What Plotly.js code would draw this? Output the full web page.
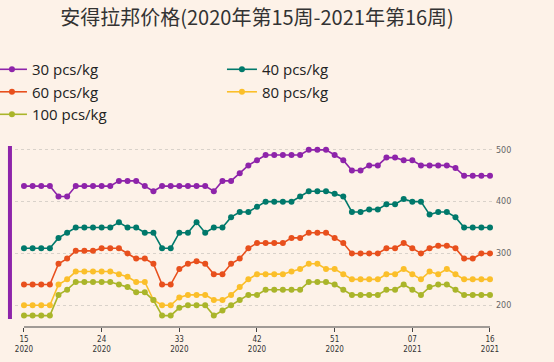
<!DOCTYPE html>
<html>
<head>
<meta charset="utf-8">
<script src="https://cdn.plot.ly/plotly-3.0.1.min.js"></script>
<style>html,body{margin:0;padding:0;background:#fdf2e8;}#chart{width:554px;height:362px;}</style>
</head>
<body>
<div id="chart"></div>
<script>
const weeks = ["2020-15","2020-16","2020-17","2020-18","2020-19","2020-20","2020-21","2020-22","2020-23","2020-24",
  "2020-25","2020-26","2020-27","2020-28","2020-29","2020-30","2020-31","2020-32","2020-33","2020-34",
  "2020-35","2020-36","2020-37","2020-38","2020-39","2020-40","2020-41","2020-42","2020-43","2020-44",
  "2020-45","2020-46","2020-47","2020-48","2020-49","2020-50","2020-51","2020-52","2020-53",
  "2021-01","2021-02","2021-03","2021-04","2021-05","2021-06","2021-07","2021-08","2021-09","2021-10",
  "2021-11","2021-12","2021-13","2021-14","2021-15","2021-16"];
const tickWeeks = ["2020-15","2020-24","2020-33","2020-42","2020-51","2021-07","2021-16"];
const tickLabels = ["15<br>2020","24<br>2020","33<br>2020","42<br>2020","51<br>2020","07<br>2021","16<br>2021"];
const seriesNames = ["30 pcs/kg","40 pcs/kg","60 pcs/kg","80 pcs/kg","100 pcs/kg"];
const p30 = [430,430,430,430,410,410,430,430,430,430,430,440,440,440,430,420,430,430,430,430,430,430,420,440,440,455,470,480,490,490,490,490,490,500,500,500,490,480,460,460,470,470,485,485,480,480,470,470,470,470,465,450,450,450,450];
const p40 = [310,310,310,310,330,340,350,350,350,350,350,360,350,350,340,340,310,310,340,340,360,340,350,350,370,380,380,390,400,400,400,400,410,420,420,420,415,410,380,380,385,385,395,395,405,400,400,375,380,380,370,350,350,350,350];
const p60 = [240,240,240,240,280,290,305,305,305,310,310,310,300,290,290,280,240,240,270,280,285,280,260,260,280,290,310,320,320,320,320,330,330,340,340,340,330,320,300,300,300,300,310,310,320,310,300,310,315,315,310,290,290,300,300];
const p80 = [200,200,200,200,240,250,265,265,265,265,265,260,255,245,245,210,200,200,215,220,220,220,210,210,220,235,250,260,260,260,260,265,270,280,280,270,270,260,250,250,250,250,260,260,270,260,250,265,260,270,260,250,250,250,250];
const p100 = [180,180,180,180,220,230,245,245,245,245,245,240,235,225,225,210,180,180,195,200,200,200,180,190,200,210,220,220,230,230,230,230,230,245,245,245,240,230,220,220,220,220,230,230,240,230,220,235,240,240,230,220,220,220,220];
const colors = ["#8e24aa","#00796b","#e8501d","#fbbf2a","#aab52a"];
const yTicks = [200,300,400,500];

const allSeries = [p30,p40,p60,p80,p100];
const traces = allSeries.map((s,k)=>({
  type:'scatter', mode:'lines+markers', name:seriesNames[k], x:weeks, y:s,
  line:{color:colors[k], width:1.6}, marker:{color:colors[k], size:6},
  hoverinfo:'skip'
}));

const layout = {
  width:554, height:362,
  paper_bgcolor:'#fdf2e8', plot_bgcolor:'#fdf2e8',
  margin:{l:15, r:59, t:140, b:35, autoexpand:false},
  title:{text:'安得拉邦价格(2020年第15周-2021年第16周)', x:0.464, xanchor:'center', y:0.95, yanchor:'middle',
    font:{family:'"Noto Sans CJK SC", "Noto Sans", sans-serif', size:20, color:'#333'}},
  showlegend:true,
  legend:{orientation:'h', xref:'paper', yref:'paper', x:-0.048, y:1.465, xanchor:'left', yanchor:'top',
    entrywidth:185, entrywidthmode:'pixels', traceorder:'normal',
    font:{family:'"Open Sans", "Noto Sans", sans-serif', size:15, color:'#222'},
    bgcolor:'rgba(0,0,0,0)', tracegroupgap:0, itemclick:false},
  xaxis:{type:'category', categoryorder:'array', categoryarray:weeks, range:[-1.04,54.58],
    tickmode:'array', tickvals:tickWeeks, ticktext:tickLabels,
    ticks:'outside', ticklen:4, tickcolor:'#444', tickwidth:1,
    showline:false, showgrid:false, zeroline:false,
    tickfont:{family:'"DejaVu Sans Condensed", "DejaVu Sans", sans-serif', size:8, color:'#333'}},
  yaxis:{range:[158,519], side:'right', tickmode:'array', tickvals:yTicks, ticks:'',
    showgrid:true, gridcolor:'#d9d2ca', griddash:'dot', gridwidth:1, zeroline:false, showline:false,
    tickfont:{family:'"DejaVu Sans", sans-serif', size:8, color:'#666'}},
  shapes:[
    {type:'line', xref:'x', yref:'paper', x0:0, x1:54, y0:0, y1:0, line:{color:'#444', width:1}},
    {type:'line', xref:'paper', yref:'paper', x0:-0.0105, x1:-0.0105, y0:0.968, y1:0.043, line:{color:'#8e24aa', width:4}}
  ],
  annotations:[
    {text:'单位：卢比', xref:'container', yref:'container', x:0.975, y:1-130/362, xanchor:'right', yanchor:'middle',
      showarrow:false, font:{family:'"Noto Sans CJK SC", sans-serif', size:14, color:'#222'}}
  ]
};
Plotly.newPlot('chart', traces, layout, {staticPlot:true, displayModeBar:false});
</script>
</body>
</html>
